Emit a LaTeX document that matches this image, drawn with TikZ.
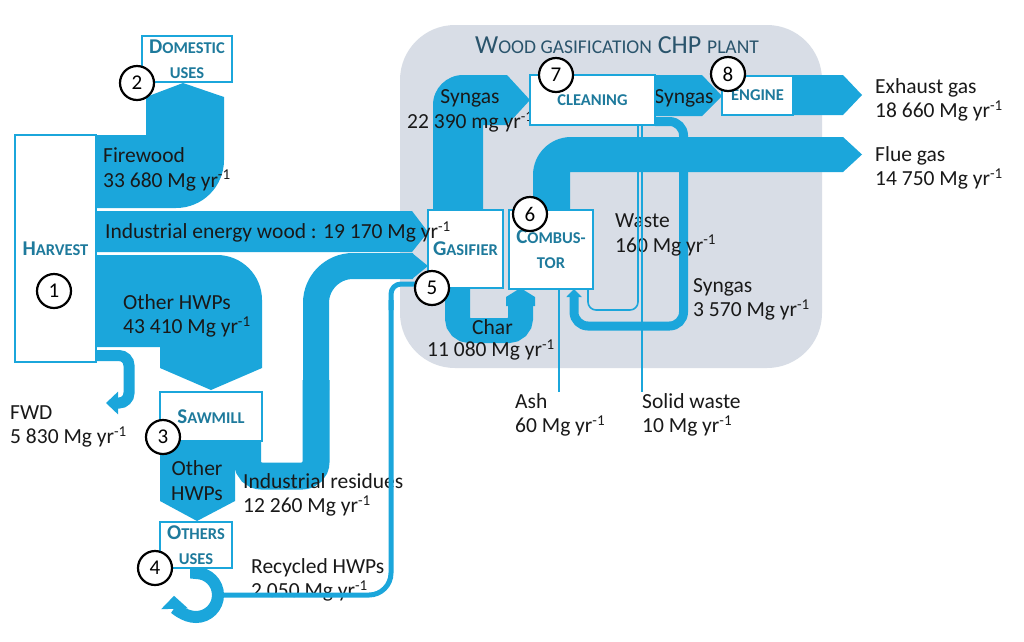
\documentclass[tikz,border=0pt]{standalone}
\usepackage{fontspec}
\setmainfont{Carlito}
\usetikzlibrary{arrows.meta}
\definecolor{flow}{RGB}{27,166,219}
\definecolor{boxtxt}{RGB}{30,122,156}
\definecolor{plant}{RGB}{216,221,230}
\definecolor{ttl}{RGB}{42,84,108}
\definecolor{ink}{RGB}{25,25,25}
\newcommand{\bc}[1]{{\fontsize{21}{25}\selectfont #1}}
\newcommand{\sx}[1]{{\fontsize{16.5}{25}\selectfont #1}}
\newcommand{\tsm}[1]{{\fontsize{19.5}{30}\selectfont #1}}
\begin{document}
\begin{tikzpicture}[x=1pt,y=-1pt,
  flowband/.style={fill=flow},
  flowline/.style={draw=flow,line cap=butt},
  unitbox/.style={draw=flow,line width=2.6pt,fill=white,inner sep=0pt,align=center,text=boxtxt,font=\bfseries\fontsize{21}{25}\selectfont},
  numc/.style={circle,draw=black,line width=2.2pt,fill=white,minimum size=34pt,inner sep=0pt,font=\fontsize{21}{25}\selectfont},
  lbl/.style={anchor=west,align=left,text=ink,inner sep=0pt,font=\fontsize{21.5}{24.5}\selectfont},
]
\useasboundingbox (0,0) rectangle (1024,641);
\fill[white] (0,0) rectangle (1024,641);
% plant background
\fill[plant, rounded corners=55pt] (400,25) rectangle (822,368);
\node[text=ttl, font=\fontsize{26}{30}\selectfont, inner sep=0pt] (title) at (617,45) {W\tsm{OOD GASIFICATION} CHP \tsm{PLANT}};

% ---- thick flows
% firewood
\fill[flowband] (96,135) -- (146,135) -- (146,97) -- (183,83) -- (224,97) -- (224,160) arc[start angle=0,end angle=90,radius=48] -- (96,208) -- cycle;
% industrial energy wood
\fill[flowband] (96,211) -- (412,211) -- (428,232) -- (412,252) -- (96,252) -- cycle;
% other HWPs (harvest -> sawmill)
\fill[flowband] (96,255) -- (217,255) arc[start angle=-90,end angle=0,radius=45] -- (262,368) -- (211,390) -- (160,368) -- (160,347) -- (96,347) -- cycle;
% FWD
\draw[flowline, line width=11pt, rounded corners=10pt, -{Triangle[width=22pt,length=12pt]}] (96,355.5) -- (129,355.5) -- (129,403) -- (106,403);
% other HWPs (sawmill -> others uses)
\fill[flowband] (160,441) -- (235,441) -- (235,501) -- (197,521) -- (160,501) -- cycle;
% industrial residues
\draw[flowline, line width=27pt, rounded corners=14pt] (247.5,440) -- (247.5,476) -- (316,476) -- (316,380);
\draw[flowline, line width=26pt, rounded corners=37pt] (316,390) -- (316,266) -- (413,266);
\fill[flowband] (412,253) -- (428,266) -- (412,279) -- cycle;
% others uses loop
\draw[flowline, line width=12pt, -{Triangle[width=26pt,length=13pt]}] (196,567) -- (196,573) arc[start angle=-90,end angle=178,radius=22];
% syngas 22 390
\fill[flowband] (433,211) -- (433,105) arc[start angle=180,end angle=270,radius=30] -- (507,75) -- (530,100) -- (507,125) -- (483,125) -- (483,211) -- cycle;
% syngas to engine
\fill[flowband] (655,75) -- (702,75) -- (722,96) -- (702,116) -- (655,116) -- cycle;
% exhaust gas
\fill[flowband] (793,75) -- (843,75) -- (862,95) -- (843,115) -- (793,115) -- cycle;
% flue gas
\fill[flowband] (533,211) -- (533,175) arc[start angle=180,end angle=270,radius=38] -- (843,137) -- (862,154.5) -- (843,172) -- (570,172) -- (570,211) -- cycle;
% char
\draw[flowline, line width=25pt, rounded corners=12pt] (457.5,287) -- (457.5,330.5) -- (520.5,330.5) -- (520.5,300);
\fill[flowband] (506,306) -- (506,297) -- (520.5,288) -- (535,297) -- (535,306) -- cycle;
% syngas 3 570 loop
\draw[flowline, line width=9pt, rounded corners=14pt, -{Triangle[width=15pt,length=8pt]}] (655,121.5) -- (683.5,121.5) -- (683.5,326) -- (574,326) -- (574,289);

% ---- labels
\node[lbl] (tfire) at (103,169.5) {Firewood\\33 680 Mg yr\textsuperscript{-1}};
\node[lbl] (tother) at (123,316) {Other HWPs\\43 410 Mg yr\textsuperscript{-1}};
\node[lbl] (tfwd) at (10,426.5) {FWD\\5 830 Mg yr\textsuperscript{-1}};
\node[lbl, anchor=center, align=center] (tother2) at (197,480.5) {Other\\HWPs};
\node[lbl] (tres) at (243,495) {Industrial residues\\12 260 Mg yr\textsuperscript{-1}};
\node[lbl] (trec) at (251,580) {Recycled HWPs\\2 050 Mg yr\textsuperscript{-1}};
\node[lbl, anchor=center] (tsyn1) at (470,98) {Syngas};
\node[lbl] (tsyn1b) at (407,122) {22 390 mg yr\textsuperscript{-1}};
\node[lbl, anchor=center] (tsyn2) at (684,98) {Syngas};
\node[lbl] (texh) at (875,100) {Exhaust gas\\18 660 Mg yr\textsuperscript{-1}};
\node[lbl] (tflue) at (875,168) {Flue gas\\14 750 Mg yr\textsuperscript{-1}};
\node[lbl] (twaste) at (615,235) {Waste\\160 Mg yr\textsuperscript{-1}};
\node[lbl] (tsyn3) at (693,299.5) {Syngas\\3 570 Mg yr\textsuperscript{-1}};
\node[lbl] (tchar) at (472,327) {Char};
\node[lbl] (tcharb) at (427,350) {11 080 Mg yr\textsuperscript{-1}};
\node[lbl] (tash) at (515,415) {Ash\\60 Mg yr\textsuperscript{-1}};
\node[lbl] (tsw) at (642,415) {Solid waste\\10 Mg yr\textsuperscript{-1}};

% ---- thin flows
\draw[flowline, line width=5pt, rounded corners=22pt] (215,595) -- (391,595) -- (391,300);
\draw[flowline, line width=5pt, rounded corners=10pt] (391,310) -- (391,284) -- (430,284);
\draw[flowline, line width=1.6pt, rounded corners=8pt] (638,125) -- (638,310) -- (588,310) -- (588,289);
\draw[flowline, line width=1.6pt] (642,125) -- (642,392);
\draw[flowline, line width=1.6pt] (559,289) -- (559,392);

% ---- process units
\node[unitbox, minimum width=81pt, minimum height=227pt] (harvest) at (55.5,248.5) {\bc{H}\sx{ARVEST}};
\node[unitbox, minimum width=90pt, minimum height=46pt] (domestic) at (187,59) {\bc{D}\sx{OMESTIC}\\\sx{USES}};
\node[unitbox, minimum width=102pt, minimum height=49pt] (sawmill) at (211,416.5) {\bc{S}\sx{AWMILL}};
\node[unitbox, minimum width=72pt, minimum height=46pt] (others) at (196,545) {\bc{O}\sx{THERS}\\\sx{USES}};
\node[unitbox, minimum width=75pt, minimum height=78pt] (gasifier) at (465.5,249) {\bc{G}\sx{ASIFIER}};
\node[unitbox, minimum width=84pt, minimum height=79pt] (combustor) at (551,249.5) {\bc{C}\sx{OMBUS-}\\\sx{TOR}};
\node[unitbox, minimum width=125pt, minimum height=50pt] (cleaning) at (592.5,100) {\sx{CLEANING}};
\node[unitbox, minimum width=71pt, minimum height=39pt] (engine) at (757.5,95.5) {\sx{ENGINE}};

\node[lbl] (tiew) at (105,232) {Industrial energy wood : 19 170 Mg yr\textsuperscript{-1}};

% ---- numbers
\node[numc] (n1) at (54,291) {1};
\node[numc] (n2) at (137,83) {2};
\node[numc] (n3) at (163,437) {3};
\node[numc] (n4) at (155,568) {4};
\node[numc] (n5) at (432,288) {5};
\node[numc] (n6) at (530,214) {6};
\node[numc] (n7) at (556,75) {7};
\node[numc] (n8) at (728,74) {8};
\end{tikzpicture}
\end{document}
